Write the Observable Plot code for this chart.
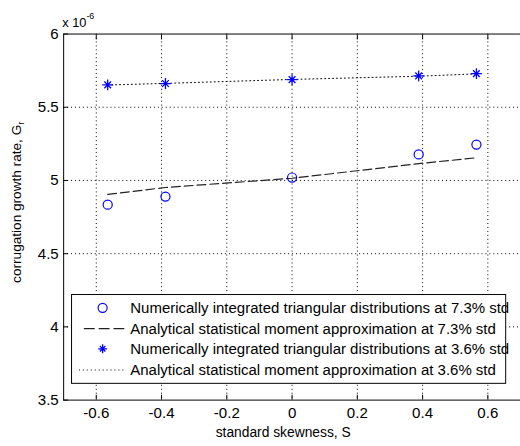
<!DOCTYPE html>
<html><head><meta charset="utf-8">
<script src="https://cdn.jsdelivr.net/npm/d3@7"></script>
<script src="https://cdn.jsdelivr.net/npm/@observablehq/plot@0.6"></script>
<style>
html,body{margin:0;padding:0;background:#fff;overflow:hidden;width:520px;height:446px}
#chart{position:relative;width:520px;height:446px;overflow:hidden}
#chart svg{display:block}
</style></head><body><div id="chart"></div>
<script>
// ---- data (values in units of 1e-6) ----
const skew  = [-0.565, -0.388, 0, 0.388, 0.565];
const num73 = [4.835, 4.890, 5.020, 5.178, 5.245];
const ana73 = [4.905, 4.952, 5.015, 5.115, 5.155];
const num36 = [5.653, 5.662, 5.689, 5.714, 5.730];
const ana36 = [5.652, 5.663, 5.690, 5.712, 5.728];
const xTicks = [-0.6, -0.4, -0.2, 0, 0.2, 0.4, 0.6];
const yTicks = [3.5, 4, 4.5, 5, 5.5, 6];
const legendLabels = [
  "Numerically integrated triangular distributions at 7.3% std",
  "Analytical statistical moment approximation at 7.3% std",
  "Numerically integrated triangular distributions at 3.6% std",
  "Analytical statistical moment approximation at 3.6% std"
];
const xLabel = "standard skewness, S";
const yLabelMain = "corrugation growth rate, G";
const yLabelSub = "r";

const rows = (ys) => skew.map((s, i) => ({s, v: ys[i]}));
const FONT = "'Liberation Sans', Arial, Helvetica, sans-serif";
const BLUE = "#0000ff";

const matStar = {draw(ctx, size) {
  const r = Math.sqrt(size / Math.PI), d = r * 0.62;
  ctx.moveTo(-r, 0); ctx.lineTo(r, 0);
  ctx.moveTo(0, -r); ctx.lineTo(0, r);
  ctx.moveTo(-d, -d); ctx.lineTo(d, d);
  ctx.moveTo(-d, d); ctx.lineTo(d, -d);
}};

const fmt = d => String(d);
const plot = Plot.plot({
  width: 527, height: 446,
  marginLeft: 64, marginRight: 0, marginTop: 34, marginBottom: 41,
  style: {fontFamily: FONT, fontSize: "15px", background: "white", color: "black"},
  x: {domain: [-0.7, 0.7]},
  y: {domain: [3.5, 6]},
  marks: [
    Plot.gridX(xTicks, {stroke: "black", strokeOpacity: 1, strokeDasharray: "1,3", strokeWidth: 1}),
    Plot.gridY(yTicks.slice(1, -1), {stroke: "black", strokeOpacity: 1, strokeDasharray: "1,3", strokeWidth: 1}),
    Plot.axisX(xTicks, {anchor: "bottom", tickSize: -5, tickFormat: () => "", label: null}),
    Plot.axisX(xTicks, {anchor: "top", tickSize: -5, tickFormat: () => "", label: null}),
    Plot.axisY(yTicks, {anchor: "left", tickSize: -5, tickFormat: () => "", label: null}),
    Plot.text(xTicks, {x: d => d, frameAnchor: "bottom", dy: 13, lineAnchor: "middle", text: fmt, fontSize: 15.3, fill: "black"}),
    Plot.text(yTicks, {y: d => d, frameAnchor: "left", dx: -5, textAnchor: "end", lineAnchor: "middle", text: fmt, fontSize: 15.3, fill: "black"}),
    Plot.frame({stroke: "black"}),
    Plot.line(rows(ana36), {x: "s", y: "v", stroke: "black", strokeWidth: 1, strokeDasharray: "1,3"}),
    Plot.line(rows(ana73), {x: "s", y: "v", stroke: "#222", strokeWidth: 1.2, strokeDasharray: "9,4"}),
    Plot.dot(rows(num73), {x: "s", y: "v", r: 4.6, stroke: BLUE, strokeWidth: 1.2, fill: "none"}),
    Plot.dot(rows(num36), {x: "s", y: "v", r: 5.5, symbol: matStar, stroke: BLUE, strokeWidth: 1.3})
  ]
});
document.getElementById("chart").appendChild(plot);

// ---- annotations: exponent, axis labels, legend ----
const svg = d3.select(plot);
const ex = svg.append("text").attr("x", 63).attr("y", 27).attr("text-anchor", "start")
  .attr("font-family", FONT).attr("font-size", 13).attr("fill", "black");
ex.append("tspan").text("x 10");
ex.append("tspan").attr("dy", -8).attr("font-size", 9).text("-6");

svg.append("text").attr("x", 287).attr("y", 443).attr("text-anchor", "middle")
  .attr("font-family", FONT).attr("font-size", 14).attr("fill", "black").text(xLabel);

const yl = svg.append("text").attr("transform", "translate(21,205) rotate(-90)")
  .attr("text-anchor", "middle").attr("font-family", FONT).attr("font-size", 13.8).attr("fill", "black");
yl.append("tspan").text(yLabelMain);
yl.append("tspan").attr("dy", 3).attr("font-size", 9.5).text(yLabelSub);

const lg = svg.append("g").attr("text-anchor", "start");
lg.append("rect").attr("x", 72.5).attr("y", 298.5).attr("width", 440).attr("height", 90)
  .attr("fill", "white").attr("stroke", "black").attr("stroke-width", 1);
const rowY = [312, 333, 353.5, 375];
legendLabels.forEach((t, i) => {
  lg.append("text").attr("x", 132).attr("y", rowY[i]).attr("dy", "0.36em").attr("text-anchor", "start")
    .attr("font-family", FONT).attr("font-size", 15.2).attr("fill", "black").text(t);
});
lg.append("circle").attr("cx", 104).attr("cy", rowY[0]).attr("r", 4.6)
  .attr("fill", "none").attr("stroke", BLUE).attr("stroke-width", 1.2);
lg.append("line").attr("x1", 85).attr("x2", 127).attr("y1", rowY[1]).attr("y2", rowY[1])
  .attr("stroke", "#222").attr("stroke-width", 1.2).attr("stroke-dasharray", "11,4");
lg.append("path").attr("transform", `translate(104,${rowY[2]})`)
  .attr("d", d3.symbol(matStar, Math.PI * 4.5 * 4.5)())
  .attr("stroke", BLUE).attr("stroke-width", 1.3).attr("fill", "none");
lg.append("line").attr("x1", 80).attr("x2", 127).attr("y1", rowY[3]).attr("y2", rowY[3])
  .attr("stroke", "black").attr("stroke-width", 1).attr("stroke-dasharray", "1,3");
</script></body></html>
